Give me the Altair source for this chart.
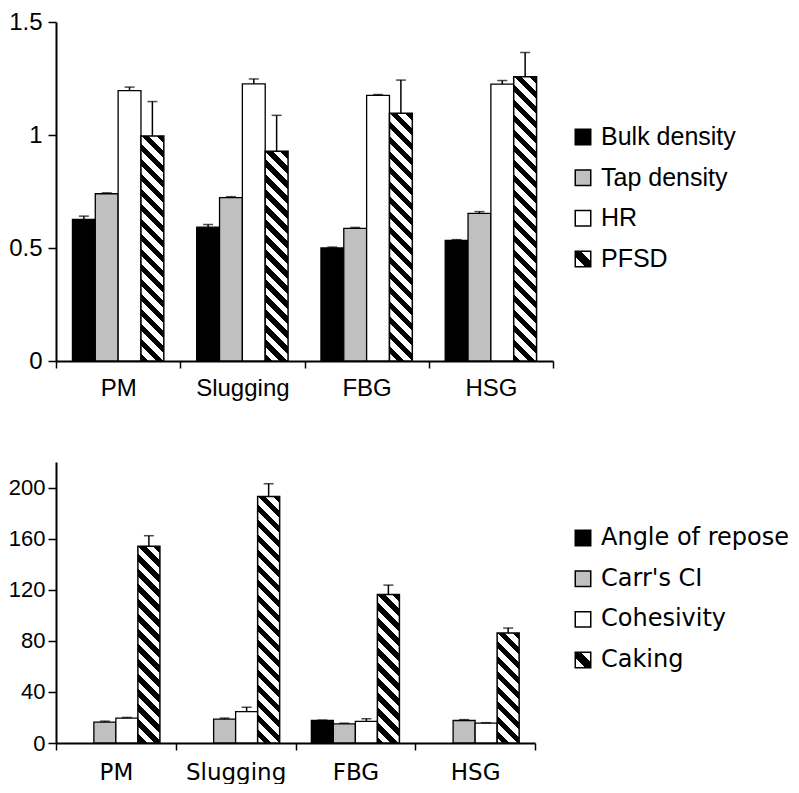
import math
import altair as alt
import pandas as pd

# ---------------- data ----------------
CATS = ["PM", "Slugging", "FBG", "HSG"]

TOP_SERIES = ["Bulk density", "Tap density", "HR", "PFSD"]
bulk = [0.627, 0.592, 0.500, 0.534]
bulk_err = [0.014, 0.012, 0.004, 0.003]
tap = [0.740, 0.723, 0.587, 0.653]
tap_err = [0.004, 0.004, 0.004, 0.008]
hr = [1.196, 1.226, 1.175, 1.225]
hr_err = [0.016, 0.022, 0.004, 0.016]
pfsd = [0.996, 0.928, 1.096, 1.258]
pfsd_err = [0.152, 0.159, 0.147, 0.107]

BOT_SERIES = ["Angle of repose", "Carr's CI", "Cohesivity", "Caking"]
angle = [None, None, 17.6, None]
angle_err = [0, 0, 0.3, 0]
carr = [16.4, 18.7, 15.0, 17.6]
carr_err = [0.7, 0.8, 0.5, 0.7]
coh = [19.5, 24.6, 16.9, 15.6]
coh_err = [0.5, 3.4, 2.1, 0.3]
caking = [154.0, 192.9, 116.3, 86.2]
caking_err = [8.3, 10.1, 7.3, 3.8]

SOLID_COLORS = ["black", "#c0c0c0", "white"]


def hatch_gradient(w, h, period=15.0, frac=0.5):
    """Diagonal '\\' stripes for a w x h rect (objectBoundingBox gradient)."""
    r = h / w
    den = 1 + r * r

    def t(u):
        return min(1.0, max(0.0, (u / w + r * r) / den))

    stops = []
    k0 = int(math.floor(-h / period)) - 1
    k1 = int(math.ceil(w / period)) + 1
    for k in range(k0, k1 + 1):
        a = k * period
        b = a + period * frac
        c = a + period
        stops += [
            alt.GradientStop(color="black", offset=t(a)),
            alt.GradientStop(color="black", offset=t(b)),
            alt.GradientStop(color="white", offset=t(b)),
            alt.GradientStop(color="white", offset=t(c)),
        ]
    return alt.LinearGradient(gradient="linear", stops=stops, x1=0, y1=r, x2=1, y2=0)


LEGEND_HATCH = alt.LinearGradient(
    gradient="linear",
    stops=[
        alt.GradientStop(color="white", offset=0),
        alt.GradientStop(color="white", offset=0.33),
        alt.GradientStop(color="black", offset=0.33),
        alt.GradientStop(color="black", offset=0.67),
        alt.GradientStop(color="white", offset=0.67),
        alt.GradientStop(color="white", offset=1),
    ],
    x1=0, y1=1, x2=1, y2=0,
)


def panel(series, values, errors, ymax, yvals, yfmt, W, H, tick_font, tick_fs, ylab_pad,
          cat_font, cat_fs, cat_pad, leg_font, legend_fs, legend_w, leg_domain, spacing):
    rows = []
    for si, s in enumerate(series):
        for ci, c in enumerate(CATS):
            v = values[si][ci]
            if v is None:
                continue
            e = errors[si][ci]
            rows.append({"cat": c, "series": s, "value": v, "hi": v + e})
    df = pd.DataFrame(rows)

    pad_outer = 0.72
    x = alt.X("cat:N", sort=CATS,
              scale=alt.Scale(domain=CATS, paddingInner=0, paddingOuter=0),
              axis=alt.Axis(title=None, labelAngle=0, tickBand="extent",
                            labelFont=cat_font, labelFontSize=cat_fs, labelColor="black",
                            labelPadding=cat_pad, tickSize=7, tickWidth=1.5,
                            tickColor="black", domainColor="black", domainWidth=2))
    xo = alt.XOffset("series:N", sort=series,
                     scale=alt.Scale(domain=series, paddingInner=0, paddingOuter=pad_outer))
    yscale = alt.Scale(domain=[0, ymax], nice=False, zero=True)
    y = alt.Y("value:Q", scale=yscale,
              axis=alt.Axis(title=None, values=yvals, format=yfmt, labelFont=tick_font,
                            labelFontSize=tick_fs, labelColor="black", labelPadding=ylab_pad,
                            tickSize=8, tickWidth=1.5, tickColor="black",
                            domainColor="black", domainWidth=2, grid=False))

    base = alt.Chart(df)
    layers = []
    solid = base.transform_filter(alt.datum.series != series[3]).mark_bar(
        stroke="black", strokeWidth=1.3).encode(
        x=x, xOffset=xo, y=y, y2=alt.datum(0),
        fill=alt.Fill("series:N", scale=alt.Scale(domain=series[:3], range=SOLID_COLORS),
                      legend=None))
    layers.append(solid)

    step = W / len(CATS)
    bw = step / (len(series) + 2 * pad_outer)
    for ci, c in enumerate(CATS):
        v = values[3][ci]
        h = v / ymax * H
        hb = base.transform_filter(
            (alt.datum.series == series[3]) & (alt.datum.cat == c)).mark_bar(
            fill=hatch_gradient(bw, h), stroke="black", strokeWidth=1.5).encode(
            x=x, xOffset=xo, y=y, y2=alt.datum(0))
        layers.append(hb)

    rule = base.mark_rule(color="black", strokeWidth=1.5).encode(
        x=x, xOffset=xo, y=alt.Y("value:Q", scale=yscale), y2="hi:Q")
    cap = base.mark_tick(color="black", thickness=1.5, size=10, orient="horizontal").encode(
        x=x, xOffset=xo, y=alt.Y("hi:Q", scale=yscale))
    layers += [rule, cap]

    plot = alt.layer(*layers).properties(width=W, height=H)

    # legend panel (entries placed by their index on a reversed linear scale)
    ldf = pd.DataFrame({"series": series, "idx": list(range(len(series)))})
    ly = alt.Y("idx:Q", axis=None,
               scale=alt.Scale(domain=leg_domain, reverse=True, nice=False, zero=False))
    lbase = alt.Chart(ldf).encode(y=ly)
    sq = lbase.transform_filter(alt.datum.series != series[3]).mark_square(
        size=240, stroke="black", strokeWidth=1.5, opacity=1).encode(
        x=alt.value(9),
        fill=alt.Fill("series:N", scale=alt.Scale(domain=series[:3], range=SOLID_COLORS),
                      legend=None))
    sqh = lbase.transform_filter(alt.datum.series == series[3]).mark_square(
        size=240, stroke="black", strokeWidth=1.5, opacity=1, fill=LEGEND_HATCH).encode(
        x=alt.value(9))
    txt = lbase.mark_text(align="left", baseline="middle", font=leg_font,
                          fontSize=legend_fs, color="black").encode(
        x=alt.value(27), text="series:N")
    leg = alt.layer(sq, sqh, txt).properties(width=legend_w, height=H)

    return alt.hconcat(plot, leg, spacing=spacing)


top = panel(TOP_SERIES, [bulk, tap, hr, pfsd], [bulk_err, tap_err, hr_err, pfsd_err],
            1.5, [0, 0.5, 1, 1.5], "~g", 497, 339,
            "Liberation Sans", 24, 6,
            "Liberation Sans", 24, 8,
            "Liberation Sans", 25, 170, [-2.828, 5.507], 18)
bottom = panel(BOT_SERIES, [angle, carr, coh, caking],
               [angle_err, carr_err, coh_err, caking_err],
               220, [0, 40, 80, 120, 160, 200], "d", 479, 281,
               "Liberation Sans", 22, 3,
               "DejaVu Sans", 23, 11,
               "DejaVu Sans", 24, 214, [-1.87, 5.04], 36)

chart = alt.vconcat(top, bottom, spacing=62).resolve_scale(
    fill="independent", xOffset="independent", x="independent", y="independent"
).properties(padding={"top": 2, "left": 0, "right": 0, "bottom": 0}).configure_view(stroke=None)

chart.save("out.html", embed_options={"renderer": "svg", "actions": False})
